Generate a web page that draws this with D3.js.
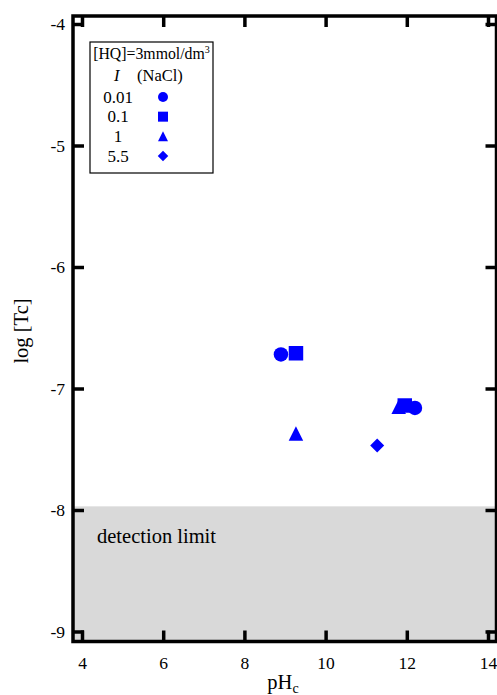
<!DOCTYPE html>
<html>
<head>
<meta charset="utf-8">
<script src="https://cdn.jsdelivr.net/npm/d3@7"></script>
<style>
  html, body { margin: 0; padding: 0; background: #fff; }
  svg { display: block; }
  text { font-family: "Liberation Serif", "DejaVu Serif", serif; fill: #000; }
</style>
</head>
<body>
<div id="chart"></div>
<script>
// Tc solubility with hydroquinone at different ionic strengths
const ionicStrengths = ["0.01", "0.1", "1", "5.5"];
const symbolKinds = ["circle", "square", "triangle", "diamond"];
const pHValues = [
  [8.9, 12.2],   // I = 0.01
  [9.27, 11.95], // I = 0.1
  [9.27, 11.8],  // I = 1
  [11.27]        // I = 5.5
];
const logTcValues = [
  [-6.72, -7.16],
  [-6.71, -7.14],
  [-7.37, -7.15],
  [-7.47]
];
const xTicks = [4, 6, 8, 10, 12, 14];
const yTicks = [-4, -5, -6, -7, -8, -9];
const detectionLimit = -7.97;

const W = 497, H = 695;
const frame = { left: 73, right: 496.5, top: 16, bottom: 641.5 };
const serif = "'Liberation Serif', 'DejaVu Serif', serif";

const svg = d3.select("#chart").append("svg")
  .attr("width", W).attr("height", H);

const x = d3.scaleLinear().domain([4, 14]).range([82, 488]);
const y = d3.scaleLinear().domain([-4, -9]).range([24, 631.5]);

// detection-limit band
svg.append("rect")
  .attr("x", frame.left)
  .attr("y", y(detectionLimit))
  .attr("width", frame.right - frame.left)
  .attr("height", frame.bottom - y(detectionLimit))
  .attr("fill", "#d9d9d9");

svg.append("text")
  .attr("x", 97).attr("y", 543)
  .style("font-size", "20.5px")
  .text("detection limit");

// frame
svg.append("rect")
  .attr("x", frame.left).attr("y", frame.top)
  .attr("width", frame.right - frame.left)
  .attr("height", frame.bottom - frame.top)
  .attr("fill", "none").attr("stroke", "#000").attr("stroke-width", 3.5);

const tickLen = 11;
const plainNumber = d => String(d);
const axisStyle = g => {
  g.attr("font-family", serif).attr("font-size", 17.5);
  g.select(".domain").remove();
  g.selectAll(".tick line").attr("stroke", "#000").attr("stroke-width", 3.5);
  g.selectAll(".tick text").style("font-family", serif).style("font-size", "17.5px").attr("fill", "#000");
};

// bottom axis (ticks pointing inward)
svg.append("g")
  .attr("transform", `translate(0,${frame.bottom})`)
  .call(d3.axisBottom(x).tickValues(xTicks).tickSize(-tickLen).tickPadding(0).tickFormat(plainNumber))
  .call(axisStyle)
  .call(g => g.selectAll(".tick text").attr("y", 27).attr("dy", 0));

// top axis
svg.append("g")
  .attr("transform", `translate(0,${frame.top})`)
  .call(d3.axisTop(x).tickValues(xTicks).tickSize(-tickLen).tickFormat(""))
  .call(axisStyle);

// left axis
svg.append("g")
  .attr("transform", `translate(${frame.left},0)`)
  .call(d3.axisLeft(y).tickValues(yTicks).tickSize(-tickLen).tickPadding(0).tickFormat(plainNumber))
  .call(axisStyle)
  .call(g => g.selectAll(".tick text").attr("x", -8).attr("dy", "0.33em"));

// right axis
svg.append("g")
  .attr("transform", `translate(${frame.right},0)`)
  .call(d3.axisRight(y).tickValues(yTicks).tickSize(-tickLen).tickFormat(""))
  .call(axisStyle);

// axis titles
svg.append("text")
  .attr("transform", `translate(28,331) rotate(-90)`)
  .attr("text-anchor", "middle")
  .style("font-size", "20.5px")
  .text("log [Tc]");

const xt = svg.append("text")
  .attr("x", 283).attr("y", 689)
  .attr("text-anchor", "middle")
  .style("font-size", "20.5px");
xt.append("tspan").text("pH");
xt.append("tspan").attr("dy", 4).style("font-size", "14px").text("c");

// marker shapes
function markerPath(kind, s) {
  const p = d3.path();
  const h = s / 2;
  if (kind === "circle") {
    p.arc(0, 0, h, 0, 2 * Math.PI);
  } else if (kind === "square") {
    p.rect(-h, -h, s, s);
  } else if (kind === "triangle") {
    p.moveTo(0, -h); p.lineTo(h, h); p.lineTo(-h, h); p.closePath();
  } else {
    p.moveTo(0, -h); p.lineTo(h, 0); p.lineTo(0, h); p.lineTo(-h, 0); p.closePath();
  }
  return p.toString();
}

// data points
const points = ionicStrengths.flatMap((s, i) =>
  pHValues[i].map((v, j) => ({ kind: symbolKinds[i], pH: v, logTc: logTcValues[i][j] })));

svg.append("g").selectAll("path")
  .data(points)
  .join("path")
  .attr("transform", d => `translate(${x(d.pH)},${y(d.logTc)})`)
  .attr("d", d => markerPath(d.kind, d.kind === "diamond" ? 14 : 14.5))
  .attr("fill", "#0000ff");

// legend
const lg = svg.append("g");
lg.append("rect")
  .attr("x", 90).attr("y", 42).attr("width", 123).attr("height", 131)
  .attr("fill", "#fff").attr("stroke", "#000").attr("stroke-width", 1.2);

const hdr = lg.append("text").attr("x", 151.5).attr("y", 59)
  .attr("text-anchor", "middle").style("font-size", "15.8px");
hdr.append("tspan").text("[HQ]=3mmol/dm");
hdr.append("tspan").attr("dy", -6).style("font-size", "10px").text("3");

const sub = lg.append("text").attr("y", 81).style("font-size", "16.5px");
sub.append("tspan").attr("x", 114).style("font-style", "italic").text("I");
sub.append("tspan").attr("x", 137).text("(NaCl)");

const rowY = d3.scalePoint().domain(ionicStrengths).range([97, 156]);
ionicStrengths.forEach((s, i) => {
  lg.append("text")
    .attr("x", 118).attr("y", rowY(s)).attr("dy", "0.33em")
    .attr("text-anchor", "middle")
    .style("font-size", "17px")
    .text(s);
  lg.append("path")
    .attr("transform", `translate(163,${rowY(s)})`)
    .attr("d", markerPath(symbolKinds[i], symbolKinds[i] === "diamond" ? 10.5 : 10))
    .attr("fill", "#0000ff");
});
</script>
</body>
</html>
